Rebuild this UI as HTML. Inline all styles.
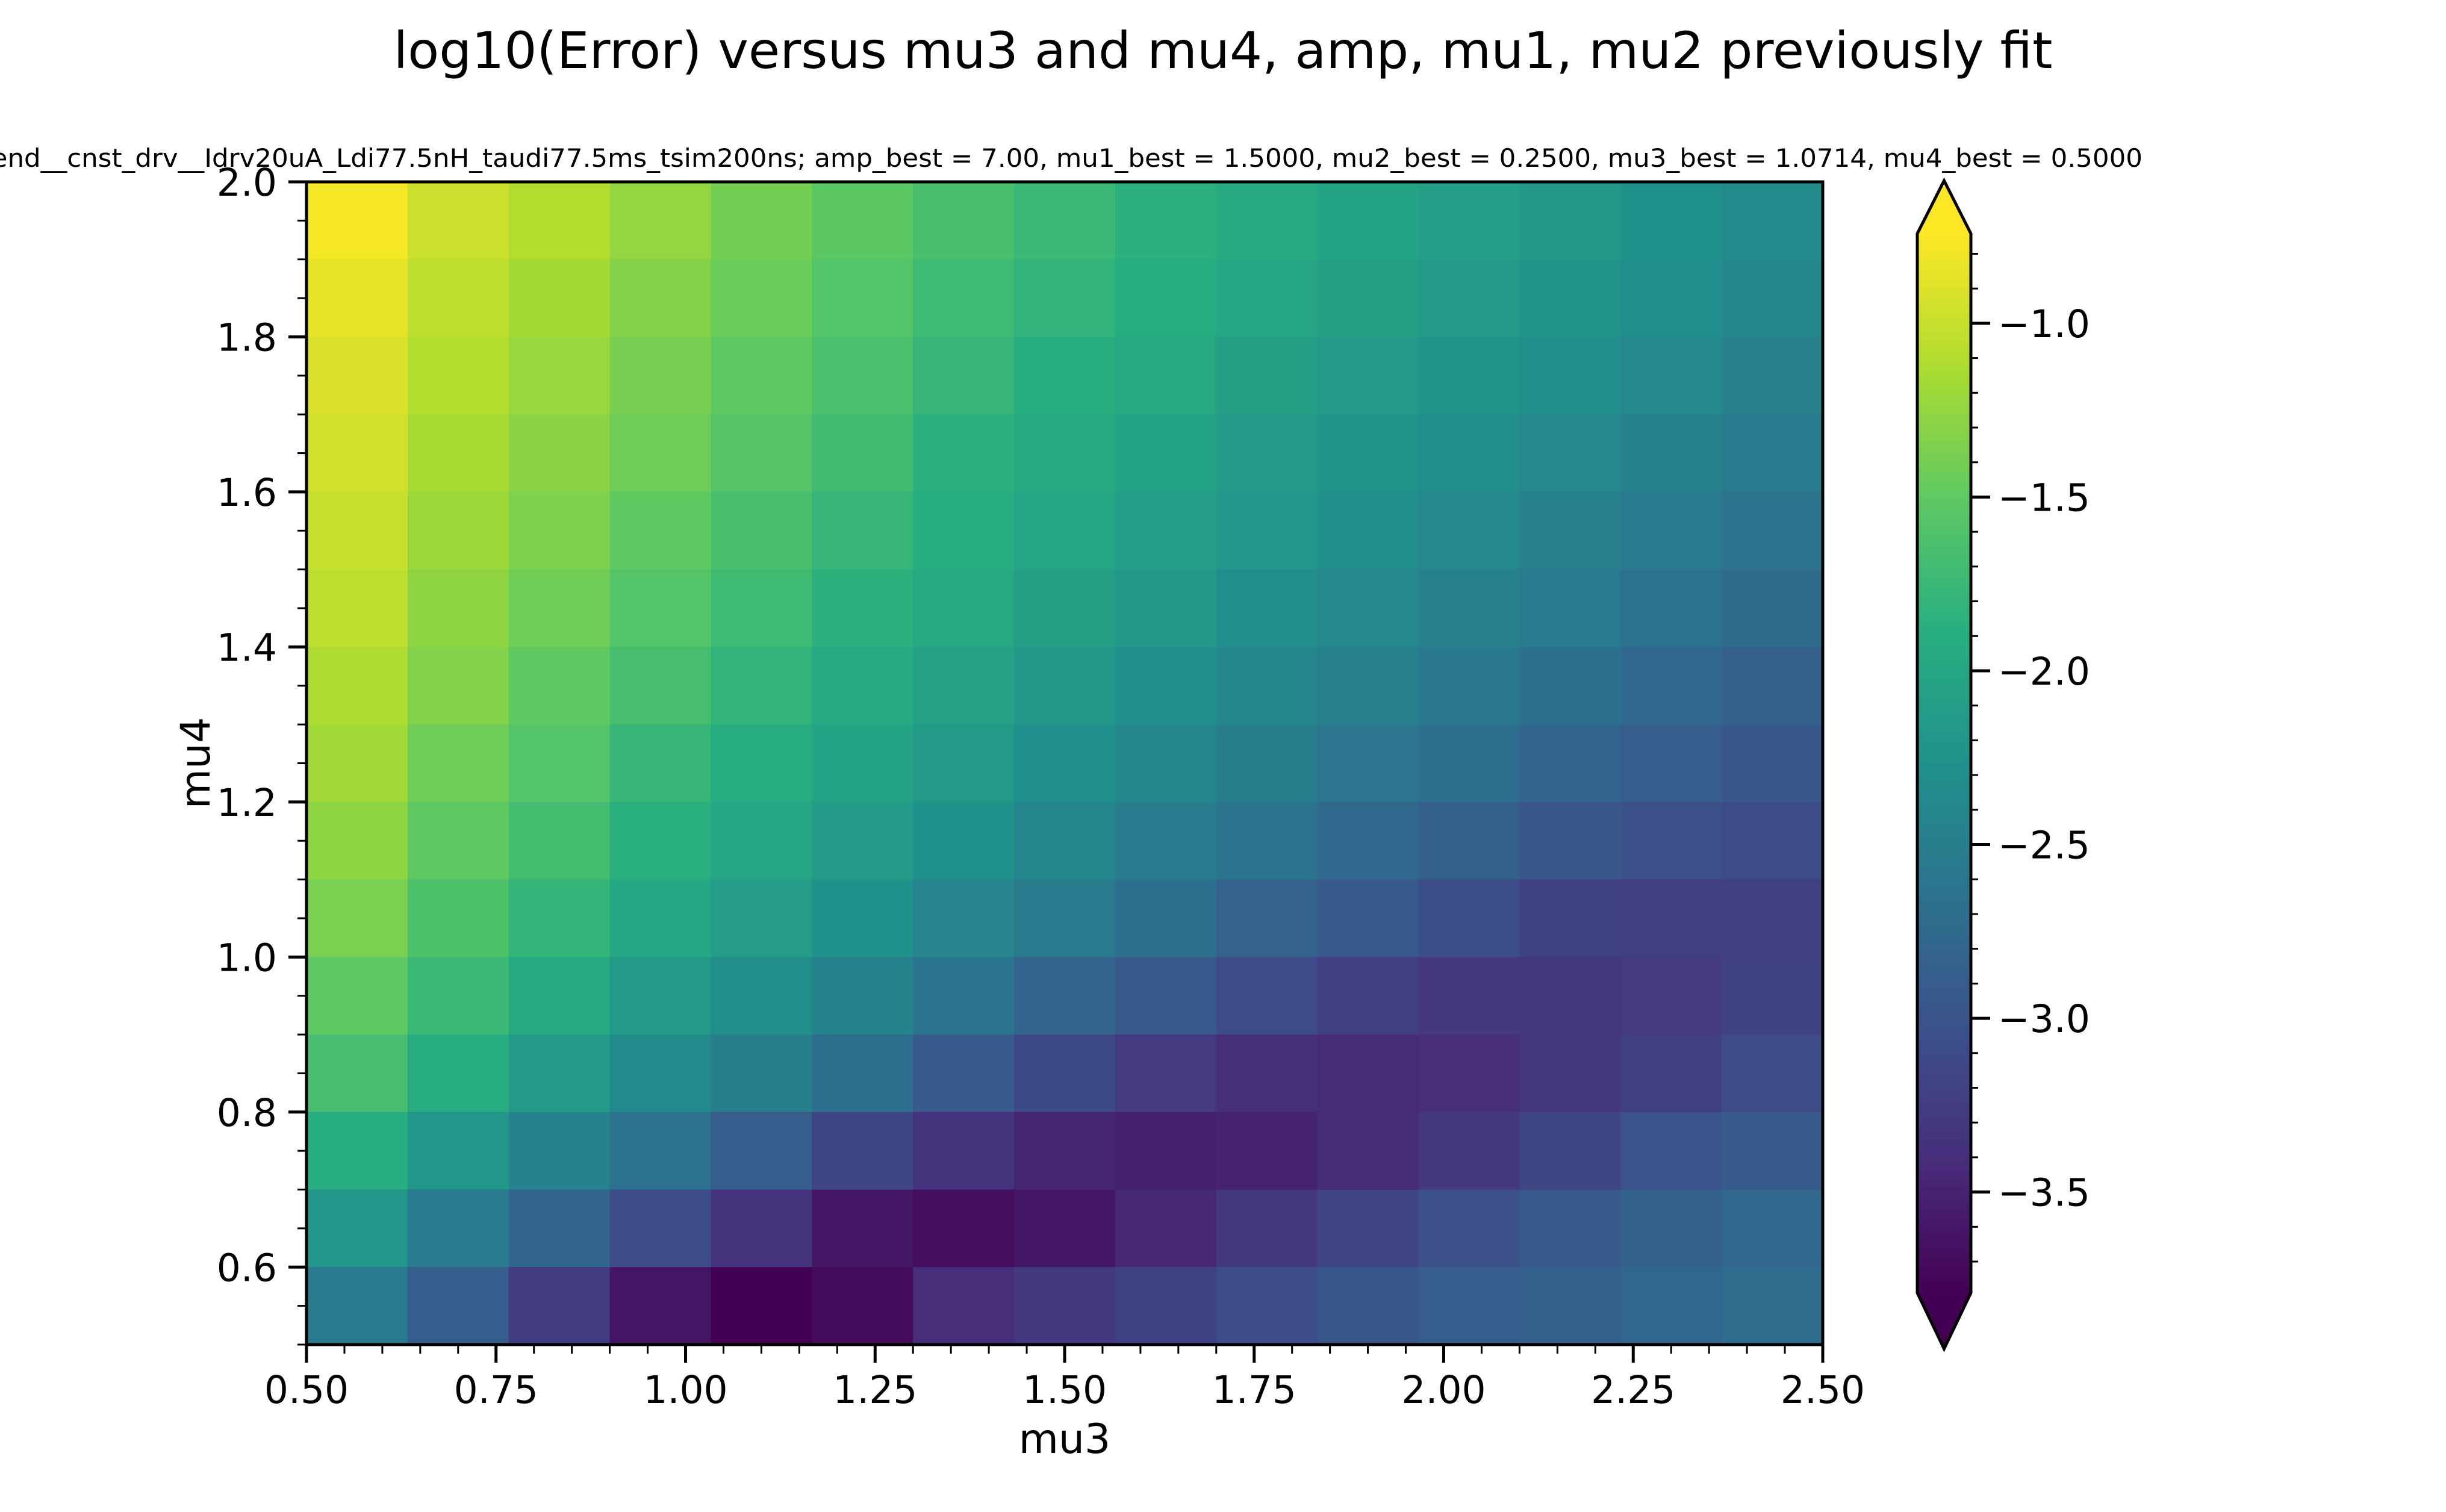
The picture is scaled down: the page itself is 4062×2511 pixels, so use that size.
<!DOCTYPE html>
<html><head><meta charset="utf-8"><title>log10(Error) heatmap</title>
<style>html,body{margin:0;padding:0;background:#fff;}svg{display:block;}</style>
</head><body>
<svg id="chart" width="4062" height="2511" xmlns="http://www.w3.org/2000/svg" font-family="'DejaVu Sans','Liberation Sans',sans-serif">
<rect width="4062" height="2511" fill="#fff"/>
<text x="2031" y="113" font-size="84" text-anchor="middle" textLength="2755" lengthAdjust="spacingAndGlyphs">log10(Error) versus mu3 and mu4, amp, mu1, mu2 previously fit</text>
<text x="1758" y="277" font-size="42" text-anchor="middle" textLength="3600" lengthAdjust="spacingAndGlyphs">dend__cnst_drv__Idrv20uA_Ldi77.5nH_taudi77.5ms_tsim200ns; amp_best = 7.00, mu1_best = 1.5000, mu2_best = 0.2500, mu3_best = 1.0714, mu4_best = 0.5000</text>
<g id="cells"></g>
<g id="axes"></g>
<g id="cbar"></g>
<text x="1768" y="2413" font-size="68" text-anchor="middle">mu3</text>
<text x="0" y="0" font-size="68" text-anchor="middle" transform="translate(348,1267) rotate(-90)">mu4</text>
</svg>
<script>
const mu3Edges = [0.5, 2.5];
const mu4Edges = [0.5, 2.0];
const nCols = 15;
const nRows = 15;
// rows from top (mu4 high) to bottom (mu4 low); columns mu3 low -> high
const values = [
[-0.78,-0.98,-1.10,-1.25,-1.40,-1.52,-1.65,-1.75,-1.85,-1.95,-2.03,-2.10,-2.18,-2.25,-2.35],
[-0.85,-1.05,-1.17,-1.32,-1.45,-1.58,-1.72,-1.82,-1.92,-2.00,-2.08,-2.15,-2.23,-2.30,-2.40],
[-0.90,-1.10,-1.22,-1.38,-1.50,-1.63,-1.78,-1.88,-1.97,-2.07,-2.15,-2.22,-2.30,-2.38,-2.47],
[-0.95,-1.15,-1.28,-1.43,-1.57,-1.70,-1.85,-1.95,-2.03,-2.13,-2.22,-2.30,-2.38,-2.45,-2.55],
[-1.00,-1.20,-1.35,-1.50,-1.65,-1.78,-1.90,-2.00,-2.10,-2.20,-2.30,-2.38,-2.47,-2.55,-2.63],
[-1.05,-1.27,-1.42,-1.58,-1.72,-1.85,-1.97,-2.08,-2.18,-2.30,-2.38,-2.47,-2.55,-2.65,-2.73],
[-1.12,-1.33,-1.50,-1.67,-1.82,-1.95,-2.05,-2.17,-2.28,-2.40,-2.48,-2.57,-2.67,-2.77,-2.85],
[-1.18,-1.42,-1.58,-1.77,-1.92,-2.03,-2.15,-2.28,-2.40,-2.50,-2.60,-2.70,-2.80,-2.90,-2.97],
[-1.27,-1.50,-1.68,-1.87,-2.00,-2.13,-2.27,-2.40,-2.52,-2.63,-2.75,-2.85,-2.97,-3.05,-3.10],
[-1.37,-1.62,-1.80,-1.98,-2.12,-2.27,-2.42,-2.55,-2.68,-2.82,-2.95,-3.07,-3.20,-3.22,-3.22],
[-1.50,-1.75,-1.95,-2.15,-2.30,-2.45,-2.62,-2.80,-2.95,-3.10,-3.22,-3.30,-3.32,-3.28,-3.20],
[-1.67,-1.93,-2.15,-2.35,-2.50,-2.70,-2.92,-3.12,-3.27,-3.38,-3.43,-3.40,-3.32,-3.22,-3.10],
[-1.90,-2.20,-2.45,-2.65,-2.90,-3.15,-3.35,-3.48,-3.52,-3.50,-3.42,-3.30,-3.15,-3.02,-2.92],
[-2.20,-2.55,-2.80,-3.10,-3.35,-3.60,-3.68,-3.60,-3.45,-3.30,-3.17,-3.05,-2.95,-2.85,-2.78],
[-2.55,-2.90,-3.25,-3.62,-3.79,-3.70,-3.40,-3.30,-3.20,-3.08,-2.98,-2.90,-2.85,-2.78,-2.72]
];
const xTicks = [0.5,0.75,1.0,1.25,1.5,1.75,2.0,2.25,2.5];
const xTickLabels = ["0.50","0.75","1.00","1.25","1.50","1.75","2.00","2.25","2.50"];
const yTicks = [0.6,0.8,1.0,1.2,1.4,1.6,1.8,2.0];
const yTickLabels = ["0.6","0.8","1.0","1.2","1.4","1.6","1.8","2.0"];
const cTicks = [-1.0,-1.5,-2.0,-2.5,-3.0,-3.5];
const cTickLabels = ["\u22121.0","\u22121.5","\u22122.0","\u22122.5","\u22123.0","\u22123.5"];
const vmin = -3.79, vmax = -0.742;

const NS = "http://www.w3.org/2000/svg";
const L = 509, R = 3027, T = 302, B = 2233;
const xs = v => L + (v - mu3Edges[0]) / (mu3Edges[1] - mu3Edges[0]) * (R - L);
const ys = v => B - (v - mu4Edges[0]) / (mu4Edges[1] - mu4Edges[0]) * (B - T);
const CL = 3184, CR = 3273, CT = 388, CB = 2147;
const cs = v => CB - (v - vmin) / (vmax - vmin) * (CB - CT);

const vir = ["#440154","#472d7b","#3b528b","#2c728e","#21918c","#28ae80","#5ec962","#addc30","#fde725"];
function hex(h){return [1,3,5].map(i=>parseInt(h.substr(i,2),16));}
function viridis(t){
  t = Math.max(0, Math.min(1, t));
  const p = t * 8, i = Math.min(7, Math.floor(p)), f = p - i;
  const a = hex(vir[i]), b = hex(vir[i+1]);
  return "rgb(" + a.map((c,k)=>Math.round(c + (b[k]-c)*f)).join(",") + ")";
}
function mk(tag, attrs, parent){
  const e = document.createElementNS(NS, tag);
  for (const k in attrs) e.setAttribute(k, attrs[k]);
  parent.appendChild(e); return e;
}

const cells = document.getElementById("cells");
const dx = (mu3Edges[1]-mu3Edges[0])/nCols, dy = (mu4Edges[1]-mu4Edges[0])/nRows;
values.forEach((row, r) => {
  row.forEach((v, c) => {
    const x0 = xs(mu3Edges[0] + c*dx), x1 = xs(mu3Edges[0] + (c+1)*dx);
    const yTop = ys(mu4Edges[1] - r*dy), yBot = ys(mu4Edges[1] - (r+1)*dy);
    const el = mk("rect", {x:x0, y:yTop, width:x1-x0+0.6, height:yBot-yTop+0.6, fill:viridis((v-vmin)/(vmax-vmin))}, cells);
    
    
  });
});

const ax = document.getElementById("axes");
for (let v = 0.5; v <= 2.5001; v += 0.05) {
  const x = xs(v);
  const el = mk("line", {x1:x, x2:x, y1:B, y2:B+15, stroke:"#000", "stroke-width":3}, ax);
  
  
}
for (let v = 0.5; v <= 2.0001; v += 0.05) {
  const y = ys(v);
  const el = mk("line", {x1:L-15, x2:L, y1:y, y2:y, stroke:"#000", "stroke-width":3}, ax);
  
  
}
xTicks.forEach((v,i) => {
  const x = xs(v);
  const t = mk("line", {x1:x, x2:x, y1:B, y2:B+30, stroke:"#000", "stroke-width":5}, ax);
  
  
  const l = mk("text", {x:x, y:2330, "font-size":63, "text-anchor":"middle"}, ax);
  l.textContent = xTickLabels[i];
  
  
});
yTicks.forEach((v,i) => {
  const y = ys(v);
  const t = mk("line", {x1:L-30, x2:L, y1:y, y2:y, stroke:"#000", "stroke-width":5}, ax);
  
  
  const l = mk("text", {x:460, y:y+23, "font-size":63, "text-anchor":"end"}, ax);
  l.textContent = yTickLabels[i];
  
  
});
const frame = mk("rect", {x:L, y:T, width:R-L, height:B-T, fill:"none", stroke:"#000", "stroke-width":5}, ax);



const cb = document.getElementById("cbar");
const steps = 200;
for (let i = 0; i < steps; i++) {
  const v0 = vmin + (vmax-vmin)*i/steps, v1 = vmin + (vmax-vmin)*(i+1)/steps;
  const r = mk("rect", {x:CL, y:cs(v1), width:CR-CL, height:cs(v0)-cs(v1)+0.8, fill:viridis((i+0.5)/steps)}, cb);
  
  
}
const cmid = (CL+CR)/2;
const topTri = mk("polygon", {points:`${CL},${CT} ${cmid},300 ${CR},${CT}`, fill:"#fde725"}, cb);


const botTri = mk("polygon", {points:`${CL},${CB} ${cmid},2240 ${CR},${CB}`, fill:"#440154"}, cb);


for (let v = -0.7; v >= -3.8; v -= 0.1) {
  const vv = Math.round(v*10)/10;
  if (vv > vmax || vv < vmin) continue;
  const y = cs(vv);
  const el = mk("line", {x1:CR, x2:CR+12, y1:y, y2:y, stroke:"#000", "stroke-width":3}, cb);
  
  
}
cTicks.forEach((v,i) => {
  const y = cs(v);
  const t = mk("line", {x1:CR, x2:CR+32, y1:y, y2:y, stroke:"#000", "stroke-width":5}, cb);
  
  
  const l = mk("text", {x:3318, y:y+23, "font-size":63}, cb);
  l.textContent = cTickLabels[i];
  
  
});
const outline = mk("polygon", {points:`${CL},${CT} ${cmid},300 ${CR},${CT} ${CR},${CB} ${cmid},2240 ${CL},${CB}`, fill:"none", stroke:"#000", "stroke-width":5}, cb);


</script>
</body></html>
